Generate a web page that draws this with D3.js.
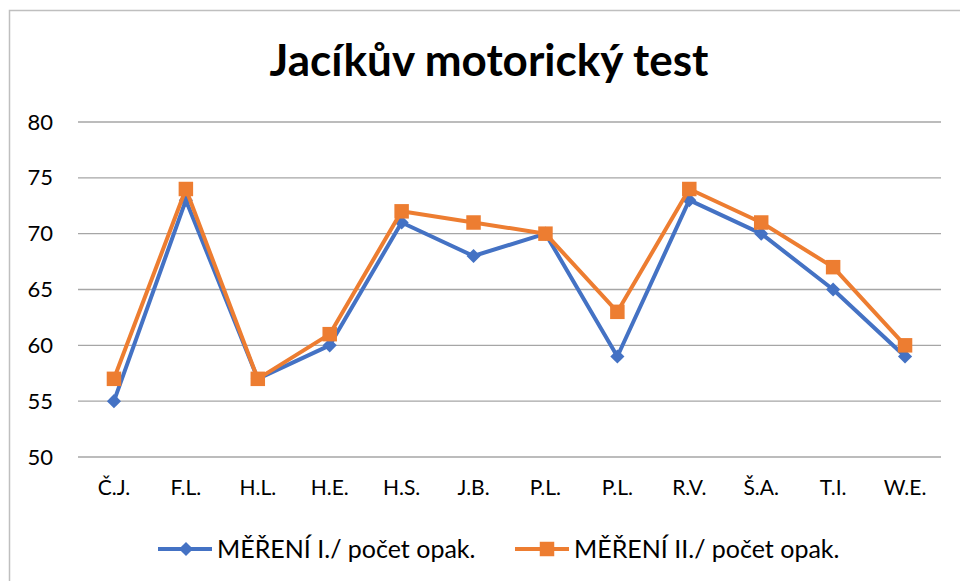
<!DOCTYPE html>
<html>
<head>
<meta charset="utf-8">
<script src="https://cdn.jsdelivr.net/npm/d3@7"></script>
<style>
  body { margin: 0; background: #fff; }
  text { font-family: Lato, "Open Sans", sans-serif; fill: #000; }
</style>
</head>
<body>
<div id="chart"></div>
<script>
const categories = ["Č.J.", "F.L.", "H.L.", "H.E.", "H.S.", "J.B.", "P.L.", "P.L.", "R.V.", "Š.A.", "T.I.", "W.E."]
const mereni1 = [55, 73, 57, 60, 71, 68, 70, 59, 73, 70, 65, 59]
const mereni2 = [57, 74, 57, 61, 72, 71, 70, 63, 74, 71, 67, 60]
const yTicks = [50, 55, 60, 65, 70, 75, 80]
const seriesNames = ["MĚŘENÍ I./ počet opak.", "MĚŘENÍ II./ počet opak."]
const colors = ["#4472c4", "#ed7d31"]

const width = 960
const height = 581
const margin = {top: 122, bottom: 124, left: 78, right: 19}

const svg = d3.select("#chart")
  .append("svg")
  .attr("width", width)
  .attr("height", height)

// chart border
svg.append("rect")
  .attr("x", 9.5)
  .attr("y", 10.5)
  .attr("width", 970)
  .attr("height", 600)
  .attr("fill", "none")
  .attr("stroke", "#bfbfbf")
  .attr("stroke-width", 1.5)

const x = d3.scaleBand()
  .domain(d3.range(categories.length))
  .range([margin.left, width - margin.right])

const y = d3.scaleLinear()
  .domain([50, 80])
  .range([height - margin.bottom, margin.top])

// gridlines
svg.append("g")
  .selectAll("line")
  .data(yTicks)
  .enter()
  .append("line")
    .attr("x1", margin.left)
    .attr("x2", width - margin.right)
    .attr("y1", d => y(d))
    .attr("y2", d => y(d))
    .attr("stroke", "#a6a6a6")
    .attr("stroke-width", 1.3)

// y axis labels
const yAxis = svg.append("g")
  .attr("transform", `translate(${margin.left - 25},0)`)
  .call(d3.axisLeft(y).tickValues(yTicks).tickSize(0).tickPadding(0))
yAxis.select(".domain").remove()
yAxis.selectAll("text")
  .attr("font-size", 22)
  .attr("font-family", "Lato, sans-serif")
  .attr("fill", "#000")

// x axis labels
const xAxis = svg.append("g")
  .attr("transform", `translate(0,${height - margin.bottom + 23})`)
  .call(d3.axisBottom(x).tickFormat(i => categories[i]).tickSize(0).tickPadding(0))
xAxis.select(".domain").remove()
xAxis.selectAll("text")
  .attr("font-size", 21)
  .attr("font-family", "Lato, sans-serif")
  .attr("fill", "#000")

const line = d3.line()
  .x((d, i) => x(i) + x.bandwidth() / 2)
  .y(d => y(d))

const diamond = d3.symbol().type(d3.symbolSquare).size(100)
const square = d3.symbol().type(d3.symbolSquare).size(210)

// series 1
svg.append("path")
  .datum(mereni1)
  .attr("d", line)
  .attr("fill", "none")
  .attr("stroke", colors[0])
  .attr("stroke-width", 4)
  .attr("stroke-linejoin", "round")

svg.append("g")
  .selectAll("path")
  .data(mereni1)
  .enter()
  .append("path")
    .attr("d", diamond)
    .attr("transform", (d, i) => `translate(${x(i) + x.bandwidth() / 2},${y(d)}) rotate(45)`)
    .attr("fill", colors[0])

// series 2
svg.append("path")
  .datum(mereni2)
  .attr("d", line)
  .attr("fill", "none")
  .attr("stroke", colors[1])
  .attr("stroke-width", 4)
  .attr("stroke-linejoin", "round")

svg.append("g")
  .selectAll("path")
  .data(mereni2)
  .enter()
  .append("path")
    .attr("d", square)
    .attr("transform", (d, i) => `translate(${x(i) + x.bandwidth() / 2},${y(d)})`)
    .attr("fill", colors[1])

// title
svg.append("text")
  .attr("x", 489)
  .attr("y", 76)
  .attr("text-anchor", "middle")
  .attr("font-size", 44)
  .attr("font-weight", "bold")
  .text("Jacíkův motorický test")

// legend
const legendX = [158, 515]
const legend = svg.selectAll(".legend")
  .data(seriesNames)
  .enter()
  .append("g")
    .attr("transform", (d, i) => `translate(${legendX[i]},549)`)

legend.append("line")
  .attr("x1", 0)
  .attr("x2", 54)
  .attr("stroke", (d, i) => colors[i])
  .attr("stroke-width", 4)

legend.append("path")
  .attr("d", (d, i) => i === 0 ? diamond() : square())
  .attr("transform", (d, i) => i === 0 ? "translate(28,0) rotate(45)" : "translate(32,0)")
  .attr("fill", (d, i) => colors[i])

legend.append("text")
  .attr("x", 59)
  .attr("y", 9)
  .attr("font-size", 25)
  .text(d => d)
</script>
</body>
</html>
